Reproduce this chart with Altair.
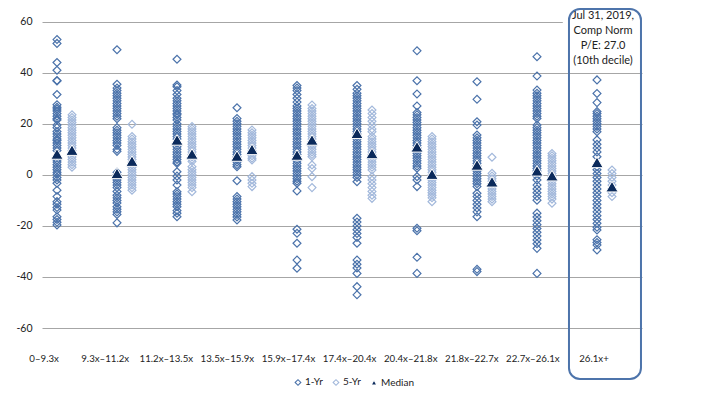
import altair as alt
import pandas as pd

categories = ["0–9.3x", "9.3x–11.2x", "11.2x–13.5x", "13.5x–15.9x", "15.9x–17.4x",
              "17.4x–20.4x", "20.4x–21.8x", "21.8x–22.7x", "22.7x–26.1x", "26.1x+"]
series_names = ["1-Yr", "5-Yr", "Median"]

c1_1yr = [53, 51.5, 44, 41, 37, 36.8, 31.5, 27.5, 26.5, 25.8, 25, 24, 23, 22, 21.5, 19.5, 18.5, 17, 16,
          15, 14, 13.5, 12.5, 11.5, 10.5, 9.5, 5.8, 5, 4, 3, 2, 1, 0.2, -1, -2, -3.3, -6, -8.5, -10.5,
          -11.5, -12.8, -13.8, -16.4, -17.5, -18.6, -19.6]
c1_5yr = [23.5, 22.5, 21.5, 20.5, 19.5, 18.5, 17.5, 16.5, 15.5, 14.5, 13.5, 12.5, 11.5, 10.5, 9.5, 8.5,
          7, 6, 5, 4, 3]
c2_1yr = [49, 35.5, 34, 33, 32, 31, 30, 29, 28, 27, 26, 25, 24, 23, 22, 18.5, 17.5, 16.5, 15.5, 14.5,
          13.5, 12.5, 11.5, 10, 9.2, 1, 0, -1, -2, -3, -4, -5, -6.5, -8, -9, -10, -11, -12.5, -13.5,
          -14.5, -15.5, -18.8]
c2_5yr = [19.8, 15, 14, 13, 12, 11, 10, 9, 8, 7, 6, 5, 4, 3, 2, 1, 0, -1, -2, -3, -4, -5, -6]
c3_1yr = [45.3, 35.2, 34.5, 33, 31.5, 30, 29, 28, 27, 26, 25, 24, 23.5, 22.5, 21.5, 20, 19, 18, 17, 16,
          15, 14, 12.5, 11, 10, 9, 8, 7, 6, 5, 4.5, 1.2, -0.5, -2, -4, -6.6, -7.5, -8.5, -9.5, -10.5,
          -11.5, -12.5, -14, -15, -16.4]
c3_5yr = [18.9, 18, 17, 16, 15, 14, 13, 12, 11, 10, 9, 8, 7, 6, 5.2, 3.2, 2, 1, 0, -1, -2, -3, -4, -5,
          -6.6]
c4_1yr = [26.3, 22.1, 21, 20, 19, 18, 17, 16, 15, 14, 13, 12, 11, 10, 9, 8, 7, 6, 5, 4, 3.2, -2.3, -8.5,
          -9.5, -10.5, -11.5, -12.5, -13.5, -14.5, -15.5, -16.5, -17.7]
c4_5yr = [17.6, 16.5, 15.5, 14.5, 13.5, 12.5, 11.5, 10.5, 9.5, 8.5, 7.5, 6.5, 5.8, -0.7, -2, -3.3, -4.6]
c5_1yr = [35, 34, 33, 31.5, 30, 28.5, 27, 26, 25, 24, 23, 22, 21, 20, 19, 18, 17, 16, 15, 14, 13, 12, 11,
          10, 9, 8, 7, 5.5, 4.5, 3.5, 2.5, 1.5, 0.5, -0.5, -1.5, -2.5, -3.3, -6.3, -21.3, -22.9, -26.8,
          -33.4, -36.6]
c5_5yr = [27.4, 26, 25, 24, 23, 22, 21, 20, 19, 18, 17, 16, 15, 14, 13, 12, 11, 10, 9, 8, 7.1, 3.9, 2.5,
          -0.7, -5]
c6_1yr = [35, 33.5, 32, 31, 30, 29, 28, 27, 26, 25, 24, 23, 22, 21, 20, 19, 18, 17, 16, 15, 14, 13, 12,
          11, 10, 9, 8, 7, 6, 5, 4, 3, 2, 1, 0, -1, -2.7, -17, -18.5, -20, -21.5, -23, -24.5, -26.8,
          -33.4, -35, -36.5, -38.6, -43.8, -47]
c6_5yr = [25.4, 24, 22.5, 21, 19.5, 18, 16.9, 15, 14, 13, 12, 11, 10, 9, 8, 7, 6, 5, 4, 3, 1.9, -0.7, -2,
          -3.5, -5, -6.5, -8, -9.2]
c7_1yr = [48.6, 36.9, 31.7, 27, 24.4, 23.5, 22.5, 21.5, 20.5, 19.5, 18.5, 17.5, 16.5, 15.5, 14.5, 13.5,
          12.5, 11.5, 10.5, 9.5, 8.5, 7.5, 6.5, 5.5, 4.5, 3.5, 2.6, -0.7, -2, -4.6, -20.9, -21.9, -32.3,
          -38.6]
c7_5yr = [15, 14, 13, 12, 11, 10, 9, 8, 7, 6, 5, 4, 3, 2, 1, 0, -1, -2, -3, -4, -5, -6, -7, -8, -9, -10.5]
c8_1yr = [36.5, 29.6, 20.8, 19.5, 15.6, 14.5, 13.5, 12.5, 11.5, 10.5, 9.5, 8.5, 7.5, 6.5, 5.5, 4.5, 3.5,
          2.5, 1.5, 0.5, -0.5, -1.5, -2.5, -3.5, -4.6, -7.2, -8.5, -10, -11.5, -13, -14.5, -16.4, -37,
          -37.9]
c8_5yr = [6.9, 0.6, -0.5, -1.5, -2.5, -3.5, -4.5, -5.5, -6.5, -7.5, -8.5, -9.5, -10.5]
c9_1yr = [46.3, 38.7, 33.2, 32, 31, 30, 29, 28, 27, 26, 25, 24, 23, 22.1, 19.5, 18.5, 17.5, 16.5, 15.5,
          14.5, 13.5, 12.5, 11.5, 10.5, 9.5, 8.5, 7.5, 6.5, 5.5, 4.5, 3.5, 2.5, 1.5, 0.5, -0.5, -2, -4,
          -5.5, -7, -8.5, -9.9, -15, -16.5, -18, -19.5, -21, -22.5, -24, -25.5, -27, -28.8, -38.6]
c9_5yr = [8.4, 7.5, 6.5, 5.5, 4.5, 3.5, 2.5, 1.5, 0.5, -0.5, -1.5, -2.5, -3.5, -4.5, -5.5, -6.5, -7.5,
          -8.5, -9.5, -11.1]
c10_1yr = [37.2, 31.9, 28.3, 24.8, 24, 23, 22, 21, 20, 19, 18, 16.9, 13.7, 12, 10.5, 9, 7.1, 3.2, 2, 0.5,
           -1, -2.5, -4, -5.5, -7, -8.5, -10, -11.5, -13, -14.5, -16, -17.5, -19, -20.5, -21.6, -25.4,
           -26.5, -27.5, -29.4]
c10_5yr = [1.9, 0.5, -1, -2.5, -4, -5.5, -7, -8.5]

median_1yr = [8.2, 0.6, 13.7, 7.4, 7.8, 16.3, 11.0, 3.9, 1.6, 4.9]
median_5yr = [9.7, 5.4, 8.2, 10.0, 13.7, 8.4, 0.3, -2.7, -0.3, -4.6]

annotation_lines = ["Jul 31, 2019,", "Comp Norm", "P/E: 27.0", "(10th decile)"]

one_yr = [c1_1yr, c2_1yr, c3_1yr, c4_1yr, c5_1yr, c6_1yr, c7_1yr, c8_1yr, c9_1yr, c10_1yr]
five_yr = [c1_5yr, c2_5yr, c3_5yr, c4_5yr, c5_5yr, c6_5yr, c7_5yr, c8_5yr, c9_5yr, c10_5yr]

# series offset inside each category slot
offsets = {"1-Yr": 0.25, "5-Yr": 0.5}

rows = []
for i, vals in enumerate(one_yr):
    for v in vals:
        rows.append({"cat": categories[i], "series": "1-Yr", "x": i + offsets["1-Yr"], "value": v})
for i, vals in enumerate(five_yr):
    for v in vals:
        rows.append({"cat": categories[i], "series": "5-Yr", "x": i + offsets["5-Yr"], "value": v})
pts = pd.DataFrame(rows)

med_rows = []
for i in range(len(categories)):
    med_rows.append({"cat": categories[i], "series": "Median", "x": i + offsets["1-Yr"], "value": median_1yr[i]})
    med_rows.append({"cat": categories[i], "series": "Median", "x": i + offsets["5-Yr"], "value": median_5yr[i]})
meds = pd.DataFrame(med_rows)

lab_df = pd.DataFrame({"cat": categories,
                       "x": [0.035 + i * 61.1 / 60 for i in range(len(categories))]})
lab_df["y"] = -72.3

box_df = pd.DataFrame({"x": [8.783], "x2": [9.983], "y": [64.95], "y2": [-79.98]})
cover_df = pd.DataFrame({"x": [8.68], "x2": [10.07], "y": [65.37], "y2": [42.6]})
annot_df = pd.DataFrame({"x": [9.35], "y": [64.4]})

Y_DOMAIN = [-82.72, 65.37]
xs = alt.Scale(domain=[0, 10], nice=False, zero=False)
ys = alt.Scale(domain=Y_DOMAIN, nice=False, zero=False)

DARK = "#4a72aa"
LIGHT = "#a2b8db"
NAVY = "#0b2a5b"

shape_enc = alt.Shape("series:N", scale=alt.Scale(domain=series_names,
                      range=["diamond", "diamond", "triangle-up"]),
                      legend=alt.Legend(title=None, orient="none", direction="horizontal",
                                        legendX=251, legendY=369, labelFont="Lato",
                                        labelFontSize=10, labelColor="#222", symbolSize=32,
                                        symbolStrokeWidth=1.1, columnPadding=7, labelOffset=2,
                                        padding=0))
stroke_enc = alt.Stroke("series:N", scale=alt.Scale(domain=series_names,
                        range=[DARK, LIGHT, "#ffffff"]), legend=alt.Legend(title=None))
fill_enc = alt.Fill("series:N", scale=alt.Scale(domain=series_names,
                    range=["transparent", "transparent", NAVY]), legend=alt.Legend(title=None))

y_axis = alt.Axis(values=[-60, -40, -20, 0, 20, 40, 60], grid=True, gridColor="#a6a6a6",
                  gridWidth=1, domain=False, ticks=False, labelPadding=10, labelFont="Lato",
                  labelFontSize=10.5, labelColor="#222", title=None,
                  labelExpr="'' + datum.value")

points = alt.Chart(pts).mark_point(size=62, strokeWidth=1.2, opacity=1).encode(
    x=alt.X("x:Q", scale=xs, axis=None),
    y=alt.Y("value:Q", scale=ys, axis=y_axis),
    shape=shape_enc, stroke=stroke_enc, fill=fill_enc,
)

medians = alt.Chart(meds).mark_point(size=150, strokeWidth=1, opacity=1).encode(
    x=alt.X("x:Q", scale=xs, axis=None),
    y=alt.Y("value:Q", scale=ys, axis=y_axis),
    shape=shape_enc, stroke=stroke_enc, fill=fill_enc,
)

cover = alt.Chart(cover_df).mark_rect(color="white").encode(
    x=alt.X("x:Q", scale=xs, axis=None), x2="x2:Q",
    y=alt.Y("y:Q", scale=ys), y2="y2:Q",
)

box = alt.Chart(box_df).mark_rect(fillOpacity=0, stroke="#4d74ab", strokeWidth=2,
                                  cornerRadius=11).encode(
    x=alt.X("x:Q", scale=xs, axis=None), x2="x2:Q",
    y=alt.Y("y:Q", scale=ys), y2="y2:Q",
)

annot = alt.Chart(annot_df).mark_text(text=annotation_lines, lineHeight=14.8, baseline="top",
                                      align="center", font="Lato", fontSize=11,
                                      color="#222").encode(
    x=alt.X("x:Q", scale=xs, axis=None), y=alt.Y("y:Q", scale=ys),
)

xlabels = alt.Chart(lab_df).mark_text(baseline="middle", align="center", font="Lato",
                                      fontSize=9.7, color="#222").encode(
    x=alt.X("x:Q", scale=xs, axis=None),
    y=alt.Y("y:Q", scale=ys),
    text="cat:N",
)

chart = alt.layer(cover, points, medians, box, annot, xlabels).properties(
    width=600, height=378,
    autosize=alt.AutoSizeParams(type="none"),
    padding={"left": 34, "top": 0, "right": 40, "bottom": 8},
).configure_view(stroke=None)

chart.save("out.html", embed_options={"renderer": "svg", "actions": False})
